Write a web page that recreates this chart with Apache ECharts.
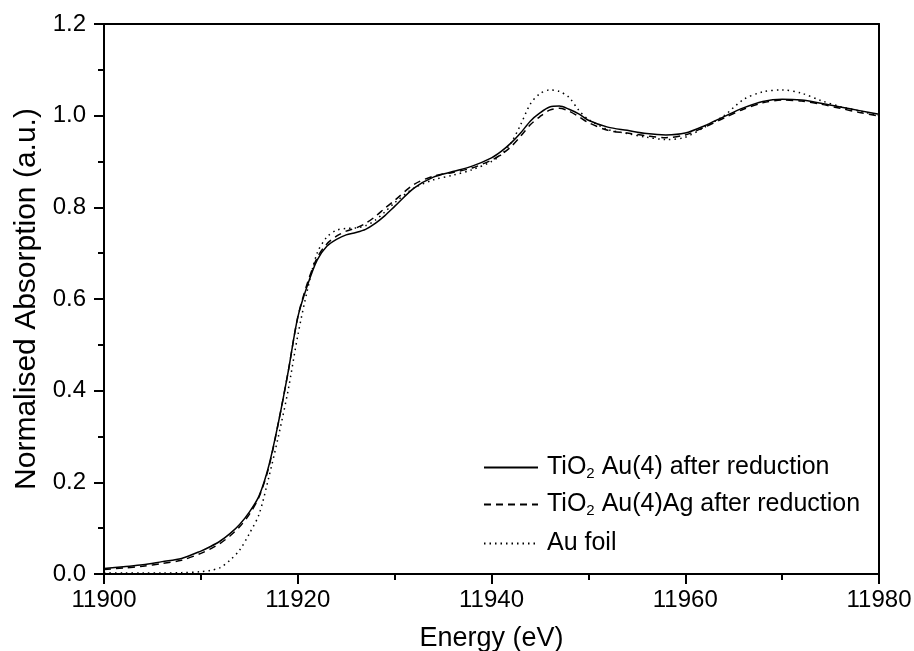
<!DOCTYPE html>
<html><head><meta charset="utf-8">
<script src="https://cdn.jsdelivr.net/npm/echarts@6/dist/echarts.min.js"></script>
<style>html,body{margin:0;padding:0;background:#fff}#c{width:914px;height:651px}</style>
</head><body><div id="c"></div>
<script>
const energies = [11900,11902,11904,11906,11908,11910,11911,11912,11913,11914,11915,11916,11917,11918,11919,11920,11921,11922,11923,11924,11925,11926,11927,11928,11929,11930,11932,11934,11936,11938,11940,11941,11942,11943,11944,11945,11946,11947,11948,11949,11950,11952,11954,11956,11958,11960,11962,11964,11966,11968,11970,11972,11974,11976,11978,11980];
const au4 = [0.012,0.016,0.020,0.027,0.034,0.050,0.060,0.072,0.088,0.108,0.135,0.170,0.235,0.330,0.440,0.560,0.630,0.685,0.715,0.730,0.740,0.745,0.752,0.765,0.782,0.802,0.842,0.866,0.878,0.890,0.908,0.922,0.940,0.962,0.988,1.006,1.019,1.021,1.014,1.004,0.990,0.975,0.968,0.961,0.958,0.962,0.978,0.998,1.017,1.031,1.036,1.034,1.027,1.019,1.011,1.003];
const au4ag = [0.010,0.013,0.017,0.023,0.030,0.045,0.055,0.067,0.083,0.103,0.130,0.168,0.232,0.330,0.440,0.560,0.635,0.690,0.720,0.737,0.748,0.755,0.765,0.780,0.798,0.815,0.850,0.868,0.876,0.886,0.903,0.915,0.932,0.955,0.980,0.998,1.012,1.016,1.010,0.998,0.985,0.968,0.962,0.956,0.952,0.958,0.975,0.995,1.014,1.028,1.034,1.032,1.025,1.016,1.007,0.999];
const auFoil = [0.002,0.002,0.002,0.002,0.003,0.005,0.008,0.014,0.030,0.052,0.088,0.130,0.210,0.300,0.400,0.520,0.620,0.700,0.735,0.750,0.754,0.755,0.760,0.772,0.790,0.810,0.842,0.860,0.870,0.882,0.900,0.915,0.940,0.980,1.025,1.048,1.056,1.053,1.040,1.012,0.992,0.970,0.961,0.953,0.948,0.953,0.975,1.000,1.035,1.052,1.056,1.049,1.033,1.020,1.010,1.000];
const seriesNames = ['TiO2 Au(4) after reduction','TiO2 Au(4)Ag after reduction','Au foil'];
const legendRich = {
  'TiO2 Au(4) after reduction': '{a|TiO}{s|2}{a| Au(4) after reduction}',
  'TiO2 Au(4)Ag after reduction': '{a|TiO}{s|2}{a| Au(4)Ag after reduction}',
  'Au foil': '{a|Au foil}'
};
const xTitle = 'Energy (eV)';
const yTitle = 'Normalised Absorption (a.u.)';

const FONT = 'Liberation Sans, Arial, sans-serif';
const pair = arr => energies.map((e,i)=>[e,arr[i]]);
const styles = [
  {type:'solid', width:1.5},
  {type:[7,5], width:1.5},
  {type:[1.5,4], width:1.5}
];
const datas = [au4, au4ag, auFoil];
const legendTops = [455, 492, 531];

const chart = echarts.init(document.getElementById('c'), null, {renderer:'canvas'});
chart.setOption({
  animation:false,
  backgroundColor:'#fff',
  grid:{left:104,right:35,top:24,bottom:77, containLabel:false, outerBoundsMode:'none'},
  xAxis:[{
    type:'value', min:11900, max:11980, interval:20,
    name:xTitle, nameLocation:'middle', nameGap:51,
    nameTextStyle:{fontFamily:FONT, fontSize:27, color:'#000'},
    axisLine:{onZero:false, lineStyle:{color:'#000', width:2}},
    axisTick:{inside:false, length:10, lineStyle:{color:'#000', width:2}},
    minorTick:{show:true, splitNumber:2, length:6, lineStyle:{color:'#000', width:2}},
    axisLabel:{fontFamily:FONT, fontSize:24, color:'#000', margin:14, formatter:v=>String(v)},
    splitLine:{show:false}
  },{
    type:'value', position:'top', min:11900, max:11980, interval:20,
    axisLine:{onZero:false, lineStyle:{color:'#000', width:2}},
    axisTick:{show:false}, axisLabel:{show:false}, splitLine:{show:false}
  }],
  yAxis:[{
    type:'value', min:0, max:1.2, interval:0.2,
    name:yTitle, nameLocation:'middle', nameGap:55,
    nameTextStyle:{fontFamily:FONT, fontSize:30, color:'#000'},
    axisLine:{onZero:false, lineStyle:{color:'#000', width:2}},
    axisTick:{inside:false, length:10, lineStyle:{color:'#000', width:2}},
    minorTick:{show:true, splitNumber:2, length:6, lineStyle:{color:'#000', width:2}},
    axisLabel:{fontFamily:FONT, fontSize:24, color:'#000', margin:18, formatter:v=>v.toFixed(1)},
    splitLine:{show:false}
  },{
    type:'value', position:'right', min:0, max:1.2, interval:0.2,
    axisLine:{onZero:false, lineStyle:{color:'#000', width:2}},
    axisTick:{show:false}, axisLabel:{show:false}, splitLine:{show:false}
  }],
  legend: seriesNames.map((n,i)=>({
    data:[n], left:483, top:legendTops[i], orient:'vertical', padding:0,
    itemWidth:54, itemHeight:14, itemGap:0,
    itemStyle:{opacity:0},
    formatter:name=>legendRich[name],
    textStyle:{fontFamily:FONT, fontSize:25, color:'#000', padding:[0,0,0,4],
      rich:{a:{fontFamily:FONT, fontSize:25, color:'#000'}, s:{fontFamily:FONT, fontSize:15, color:'#000', verticalAlign:'bottom', padding:[12,0,0,0]}}}
  })),
  series: seriesNames.map((n,i)=>({
    name:n, type:'line', data:pair(datas[i]), smooth:0.3,
    showSymbol:false, symbol:'none', color:'#000',
    lineStyle:Object.assign({color:'#000'}, styles[i])
  }))
});
</script></body></html>
